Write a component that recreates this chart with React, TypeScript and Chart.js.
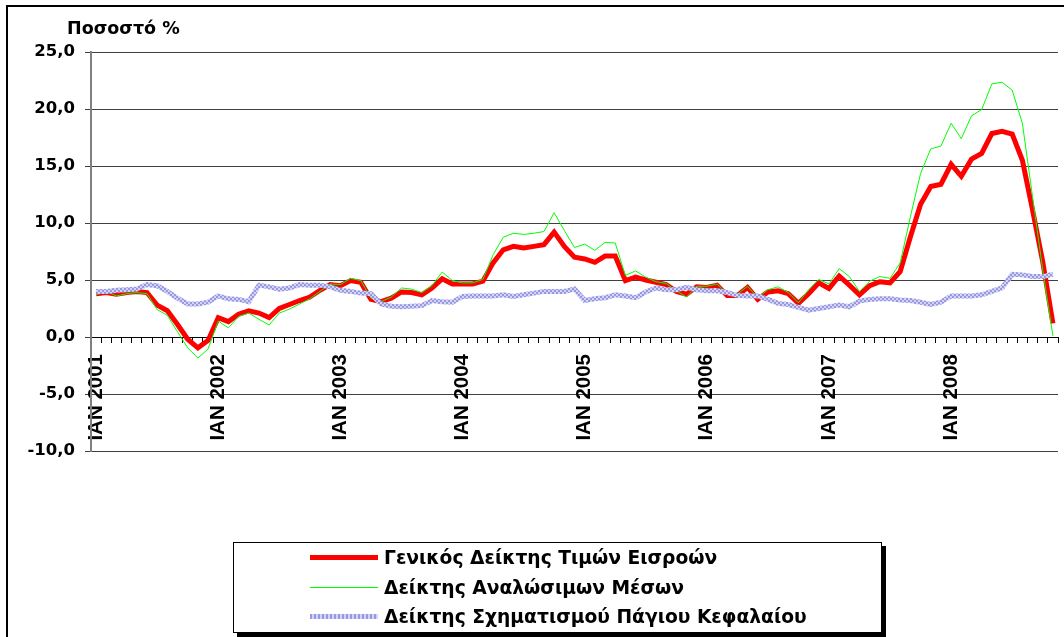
import React, { useEffect, useRef } from 'react';
import { Chart, registerables } from 'chart.js';

Chart.register(...registerables);

const years = [2001, 2002, 2003, 2004, 2005, 2006, 2007, 2008];
const monthNames = ['ΙΑΝ', 'ΦΕΒ', 'ΜΑΡ', 'ΑΠΡ', 'ΜΑΪ', 'ΙΟΥΝ', 'ΙΟΥΛ', 'ΑΥΓ', 'ΣΕΠ', 'ΟΚΤ', 'ΝΟΕ', 'ΔΕΚ'];
const lastMonthCount = 11; // data ends in November 2008

const categories: string[] = [];
years.forEach((y, yi) => {
  const n = yi === years.length - 1 ? lastMonthCount : 12;
  for (let m = 0; m < n; m++) categories.push(`${monthNames[m]} ${y}`);
});

const yTicks = [-10, -5, 0, 5, 10, 15, 20, 25];

const generalIndex = [
  3.8, 3.9, 3.75, 3.9, 4.0, 3.9, 2.8, 2.3, 1.1, -0.2, -0.95, -0.3,
  1.7, 1.35, 2.0, 2.3, 2.1, 1.7, 2.5, 2.85, 3.2, 3.5, 4.1, 4.6,
  4.5, 4.95, 4.8, 3.3, 3.1, 3.4, 3.95, 3.9, 3.7, 4.3, 5.1, 4.65,
  4.65, 4.65, 4.9, 6.5, 7.65, 7.95, 7.8, 7.95, 8.1, 9.2, 7.95, 7.0,
  6.85, 6.55, 7.1, 7.1, 4.95, 5.25, 5.0, 4.8, 4.6, 4.0, 3.75, 4.4,
  4.35, 4.55, 3.65, 3.65, 4.35, 3.3, 3.95, 4.05, 3.8, 2.95, 3.8, 4.75,
  4.25, 5.35, 4.55, 3.7, 4.5, 4.85, 4.75, 5.75, 8.8, 11.65, 13.2, 13.4,
  15.15, 14.1, 15.6, 16.1, 17.85, 18.05, 17.8, 15.5, 11.15, 6.6, 1.2,
];

const consumables = [
  3.7, 4.0, 3.6, 3.8, 3.9, 3.8, 2.4, 1.9, 0.45, -0.95, -1.85, -1.05,
  1.4, 0.8, 1.8, 2.1, 1.55, 1.05, 2.1, 2.45, 2.9, 3.35, 4.0, 4.65,
  4.6, 5.15, 4.95, 3.4, 3.1, 3.5, 4.3, 4.2, 3.9, 4.5, 5.7, 4.95,
  4.75, 4.75, 5.05, 7.2, 8.75, 9.1, 9.0, 9.1, 9.25, 10.9, 9.35, 7.85,
  8.15, 7.6, 8.3, 8.25, 5.4, 5.8, 5.25, 4.85, 4.7, 4.05, 3.5, 4.45,
  4.45, 4.65, 3.8, 3.75, 4.45, 3.45, 4.15, 4.4, 3.9, 3.0, 4.15, 5.05,
  4.65, 6.0, 5.3, 4.0, 4.9, 5.3, 5.15, 6.5, 10.55, 14.35, 16.5, 16.75,
  18.75, 17.4, 19.4, 19.95, 22.2, 22.35, 21.65, 18.75, 12.3, 5.9, 0.1,
];

const fixedCapital = [
  4.0, 4.0, 4.1, 4.15, 4.2, 4.6, 4.5, 4.0, 3.4, 2.9, 2.9, 3.05,
  3.6, 3.35, 3.3, 3.1, 4.55, 4.4, 4.2, 4.3, 4.6, 4.55, 4.55, 4.4,
  4.1, 4.0, 3.85, 3.8, 2.9, 2.7, 2.65, 2.7, 2.75, 3.2, 3.1, 3.05,
  3.55, 3.6, 3.6, 3.6, 3.7, 3.55, 3.7, 3.85, 4.0, 4.0, 4.0, 4.2,
  3.2, 3.35, 3.45, 3.7, 3.6, 3.45, 3.95, 4.3, 4.15, 4.15, 4.35, 4.15,
  4.05, 4.05, 3.9, 3.65, 3.6, 3.6, 3.3, 2.95, 2.85, 2.6, 2.35, 2.5,
  2.65, 2.8, 2.65, 3.15, 3.3, 3.35, 3.35, 3.25, 3.2, 3.05, 2.85, 3.05,
  3.6, 3.6, 3.6, 3.7, 4.0, 4.3, 5.5, 5.45, 5.3, 5.3, 5.5,
];

const seriesNames = [
  'Γενικός Δείκτης Τιμών Εισροών',
  'Δείκτης Αναλώσιμων Μέσων',
  'Δείκτης Σχηματισμού Πάγιου Κεφαλαίου',
];

const LABEL_FONT = 'DejaVu Sans';

function makeBluePattern(): CanvasPattern | string {
  const c = document.createElement('canvas');
  c.width = 4;
  c.height = 4;
  const g = c.getContext('2d');
  if (!g) return '#a8a8e8';
  g.fillStyle = '#d4d4f8';
  g.fillRect(0, 0, 4, 4);
  g.fillStyle = '#9898e0';
  g.fillRect(0, 0, 2, 2);
  g.fillRect(2, 2, 2, 2);
  return g.createPattern(c, 'repeat') || '#a8a8e8';
}

export default function App() {
  const canvasRef = useRef<HTMLCanvasElement | null>(null);

  useEffect(() => {
    document.body.style.margin = '0';
    const canvas = canvasRef.current;
    if (!canvas) return;
    const pattern = makeBluePattern();
    const chart = new Chart(canvas, {
      type: 'line',
      data: {
        labels: categories,
        datasets: [
          {
            label: seriesNames[0],
            data: generalIndex,
            borderColor: '#ff0000',
            backgroundColor: '#ff0000',
            borderWidth: 5,
            pointRadius: 0,
            tension: 0,
            order: 3,
          },
          {
            label: seriesNames[1],
            data: consumables,
            borderColor: '#00ff00',
            backgroundColor: '#00ff00',
            borderWidth: 1,
            pointRadius: 0,
            tension: 0,
            order: 2,
          },
          {
            label: seriesNames[2],
            data: fixedCapital,
            borderColor: pattern as any,
            backgroundColor: '#a8a8e8',
            borderWidth: 5,
            pointRadius: 0,
            tension: 0,
            order: 1,
          },
        ],
      },
      options: {
        animation: false,
        responsive: false,
        devicePixelRatio: 1,
        layout: { padding: { left: 0, top: 52, right: 6, bottom: 186 } },
        plugins: {
          legend: { display: false },
          tooltip: { enabled: false },
          title: { display: false },
        },
        scales: {
          x: {
            type: 'category',
            position: { y: 0 } as any,
            offset: true,
            grid: {
              display: true,
              drawOnChartArea: false,
              drawTicks: true,
              tickLength: 5,
              color: '#000000',
              offset: true,
            },
            border: { display: true, color: '#000000', width: 1 },
            ticks: {
              autoSkip: false,
              minRotation: 90,
              maxRotation: 90,
              padding: 12,
              color: '#000000',
              font: { family: 'Liberation Sans', weight: 'bold', size: 20.5 },
              callback: (_v: any, i: number) =>
                categories[i].startsWith(monthNames[0] + ' ') ? categories[i] : '',
            },
            afterFit: (s: any) => {
              s.paddingLeft = 0;
              s.paddingRight = 0;
            },
          },
          y: {
            type: 'linear',
            min: yTicks[0],
            max: yTicks[yTicks.length - 1],
            afterBuildTicks: (s: any) => {
              s.ticks = yTicks.map((v) => ({ value: v }));
            },
            ticks: {
              padding: 10,
              color: '#000000',
              font: { family: LABEL_FONT, weight: 'bold', size: 16.5 },
              callback: (v: any) => Number(v).toFixed(1).replace('.', ','),
            },
            grid: { color: '#404040', lineWidth: 1, tickLength: 6 },
            border: { display: true, color: '#808080', width: 2 },
            afterFit: (s: any) => {
              s.width = 91;
            },
          },
        },
      },
    });
    return () => chart.destroy();
  }, []);

  const legendRow = (sample: React.ReactNode, text: string) => (
    <div style={{ display: 'flex', alignItems: 'center', height: 29.5 }}>
      <div style={{ width: 68, marginLeft: 76, marginRight: 6, display: 'flex', alignItems: 'center' }}>{sample}</div>
      <span>{text}</span>
    </div>
  );

  return (
    <div
      style={{
        position: 'fixed',
        left: 0,
        top: 0,
        width: 1064,
        height: 637,
        overflow: 'hidden',
        background: '#ffffff',
      }}
    >
      <div
        style={{
          position: 'absolute',
          left: 6,
          top: 5,
          width: 1200,
          height: 800,
          border: '2px solid #000',
          boxSizing: 'border-box',
        }}
      />
      <canvas
        ref={canvasRef}
        width={1064}
        height={637}
        style={{ position: 'absolute', left: 0, top: 0, width: 1064, height: 637 }}
      />
      <div
        style={{
          position: 'absolute',
          left: 67,
          top: 18,
          fontFamily: LABEL_FONT,
          fontWeight: 'bold',
          fontSize: 17.5,
          lineHeight: '20px',
          color: '#000',
          whiteSpace: 'nowrap',
        }}
      >
        Ποσοστό %
      </div>
      <div
        style={{
          position: 'absolute',
          left: 233,
          top: 543,
          width: 649,
          height: 91,
          boxSizing: 'border-box',
          border: '1px solid #000',
          boxShadow: '4px 4px 0 #000',
          background: '#fff',
          fontFamily: LABEL_FONT,
          fontWeight: 'bold',
          fontSize: 18.7,
          color: '#000',
          whiteSpace: 'nowrap',
          paddingTop: 0,
          marginTop: -1,
        }}
      >
        {legendRow(<div style={{ width: 68, height: 5, background: '#ff0000' }} />, seriesNames[0])}
        {legendRow(<div style={{ width: 68, height: 1, background: '#00ff00' }} />, seriesNames[1])}
        {legendRow(
          <div
            style={{
              width: 68,
              height: 5,
              background:
                'repeating-linear-gradient(90deg, #9898e0 0px, #9898e0 2px, #d4d4f8 2px, #d4d4f8 4px)',
            }}
          />,
          seriesNames[2]
        )}
      </div>
    </div>
  );
}
